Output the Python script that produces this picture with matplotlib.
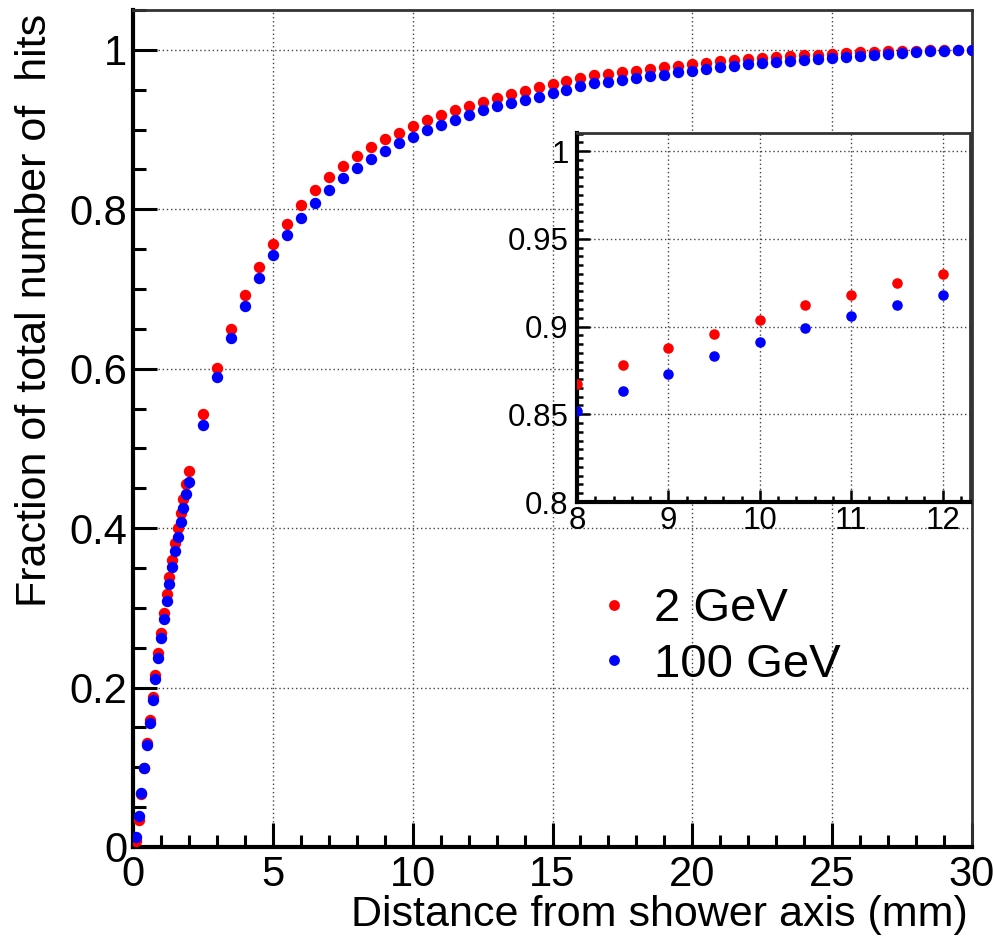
import matplotlib
matplotlib.use("Agg")
import matplotlib.pyplot as plt
from matplotlib.ticker import MultipleLocator, FuncFormatter

plt.rcParams['font.family'] = ['Liberation Sans', 'DejaVu Sans']

# distance from shower axis (mm)
dist_fine = [0.1, 0.2, 0.3, 0.4, 0.5, 0.6, 0.7, 0.8, 0.9, 1.0,
             1.1, 1.2, 1.3, 1.4, 1.5, 1.6, 1.7, 1.8, 1.9, 2.0]
dist_coarse = [2.5, 3.0, 3.5, 4.0, 4.5, 5.0, 5.5, 6.0, 6.5, 7.0,
               7.5, 8.0, 8.5, 9.0, 9.5, 10.0, 10.5, 11.0, 11.5, 12.0,
               12.5, 13.0, 13.5, 14.0, 14.5, 15.0, 15.5, 16.0, 16.5, 17.0,
               17.5, 18.0, 18.5, 19.0, 19.5, 20.0, 20.5, 21.0, 21.5, 22.0,
               22.5, 23.0, 23.5, 24.0, 24.5, 25.0, 25.5, 26.0, 26.5, 27.0,
               27.5, 28.0, 28.5, 29.0, 29.5, 30.0]
distance = dist_fine + dist_coarse

# fraction of hits, 2 GeV
frac_2gev = [0.008, 0.034, 0.066, 0.099, 0.130, 0.159, 0.188, 0.216, 0.243, 0.269,
             0.294, 0.317, 0.339, 0.360, 0.381, 0.400, 0.419, 0.437, 0.455, 0.472,
             0.543, 0.601, 0.650, 0.693, 0.727, 0.756, 0.782, 0.805, 0.824, 0.841,
             0.854, 0.867, 0.878, 0.888, 0.896, 0.904, 0.912, 0.918, 0.925, 0.930,
             0.935, 0.940, 0.944, 0.949, 0.953, 0.957, 0.961, 0.965, 0.968, 0.970,
             0.972, 0.974, 0.976, 0.978, 0.980, 0.982, 0.984, 0.986, 0.987, 0.989,
             0.990, 0.991, 0.992, 0.993, 0.994, 0.995, 0.996, 0.997, 0.9975, 0.998,
             0.9985, 0.999, 0.9995, 1.0, 1.0, 1.0]

# fraction of hits, 100 GeV
frac_100gev = [0.013, 0.039, 0.068, 0.099, 0.128, 0.156, 0.184, 0.211, 0.237, 0.262,
               0.286, 0.308, 0.330, 0.351, 0.371, 0.389, 0.408, 0.425, 0.443, 0.458,
               0.530, 0.589, 0.638, 0.679, 0.714, 0.743, 0.768, 0.789, 0.808, 0.824,
               0.839, 0.852, 0.863, 0.873, 0.883, 0.891, 0.899, 0.906, 0.912, 0.918,
               0.924, 0.929, 0.933, 0.937, 0.941, 0.946, 0.950, 0.955, 0.958, 0.960,
               0.962, 0.9645, 0.967, 0.969, 0.972, 0.974, 0.976, 0.978, 0.980, 0.982,
               0.983, 0.9845, 0.986, 0.987, 0.989, 0.990, 0.991, 0.992, 0.994, 0.995,
               0.996, 0.997, 0.998, 0.999, 0.9995, 1.0]

fig = plt.figure(figsize=(9.95, 9.4), dpi=100)
fmt = FuncFormatter(lambda v, p: f"{v:g}")

def style_axes(ax, lw_thick, lw_thin):
    for s in ('left', 'bottom'):
        ax.spines[s].set_linewidth(lw_thick)
    for s in ('top', 'right'):
        ax.spines[s].set_linewidth(lw_thin)
        ax.spines[s].set_color('#333333')
    ax.grid(True, which='major', linestyle=(0, (1, 2)), color='#444444', linewidth=1.0)

# main plot
ax = fig.add_axes([133/995, 1 - 847/940, (972 - 133)/995, (847 - 10)/940])
ax.plot(distance, frac_2gev, 'o', color='#ff0000', ms=8.2, mew=0, label='2 GeV', zorder=3)
ax.plot(distance, frac_100gev, 'o', color='#0000ff', ms=8.2, mew=0, label='100 GeV', zorder=4)
ax.set_xlim(0, 30)
ax.set_ylim(0, 1.05)
ax.xaxis.set_major_locator(MultipleLocator(5))
ax.xaxis.set_minor_locator(MultipleLocator(1))
ax.yaxis.set_major_locator(MultipleLocator(0.2))
ax.yaxis.set_minor_locator(MultipleLocator(0.05))
ax.tick_params(which='both', direction='in', top=False, right=False, width=2.2, labelsize=30)
ax.tick_params(which='major', length=17)
ax.tick_params(which='minor', length=9)
ax.tick_params(axis='x', pad=6)
ax.tick_params(axis='y', pad=4)
ax.yaxis.set_major_formatter(fmt)
style_axes(ax, 3.0, 2.0)

fig.text(968/995, 1 - 915/940, 'Distance from shower axis (mm)', ha='right', va='center', fontsize=31)
fig.text(35/995, 1 - 310/940, 'Fraction of total number of  hits', rotation=90,
         ha='center', va='center', fontsize=31)

ax.legend(loc='center left', bbox_to_anchor=(600/995, 1 - 637/940), bbox_transform=fig.transFigure,
          frameon=False, fontsize=34, numpoints=1, handlelength=0.6, handletextpad=0.55,
          labelspacing=0.25, borderpad=0, borderaxespad=0, markerscale=0.95)

# inset
axin = fig.add_axes([577/995, 1 - 502/940, (970 - 577)/995, (502 - 133)/940])
axin.plot(distance, frac_2gev, 'o', color='#ff0000', ms=7.6, mew=0, zorder=3)
axin.plot(distance, frac_100gev, 'o', color='#0000ff', ms=7.6, mew=0, zorder=4)
axin.set_xlim(8, 12.3)
axin.set_ylim(0.8, 1.0103)
axin.xaxis.set_major_locator(MultipleLocator(1))
axin.xaxis.set_minor_locator(MultipleLocator(0.2))
axin.yaxis.set_major_locator(MultipleLocator(0.05))
axin.yaxis.set_minor_locator(MultipleLocator(0.005))
axin.tick_params(which='both', direction='in', top=False, right=False, width=1.8, labelsize=22.5)
axin.tick_params(which='major', length=9)
axin.tick_params(which='minor', length=4)
axin.tick_params(axis='x', pad=3)
axin.tick_params(axis='y', pad=6)
axin.yaxis.set_major_formatter(fmt)
style_axes(axin, 3.0, 2.0)

fig.savefig('out.png', dpi=100)
